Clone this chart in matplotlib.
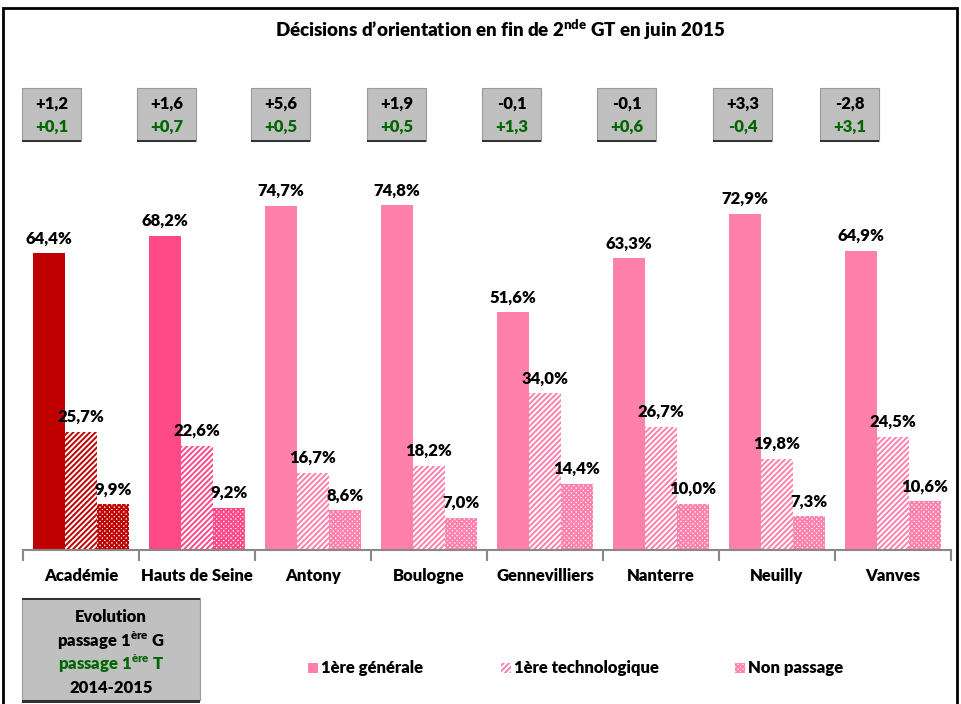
import matplotlib
matplotlib.use("Agg")
import matplotlib.pyplot as plt
from matplotlib.patches import Rectangle
import numpy as np

FONT = 'Lato'
WT = 'heavy'
plt.rcParams['font.family'] = [FONT, 'DejaVu Sans']
plt.rcParams['font.weight'] = WT
plt.rcParams['mathtext.fontset'] = 'custom'
plt.rcParams['mathtext.rm'] = FONT + ':' + WT
plt.rcParams['mathtext.bf'] = FONT + ':' + WT
plt.rcParams['hatch.linewidth'] = 1.4

categories = ["Académie", "Hauts de Seine", "Antony", "Boulogne", "Gennevilliers",
              "Nanterre", "Neuilly", "Vanves"]
premiere_generale = [64.4, 68.2, 74.7, 74.8, 51.6, 63.3, 72.9, 64.9]
premiere_techno = [25.7, 22.6, 16.7, 18.2, 34.0, 26.7, 19.8, 24.5]
non_passage = [9.9, 9.2, 8.6, 7.0, 14.4, 10.0, 7.3, 10.6]
evol_g = ["+1,2", "+1,6", "+5,6", "+1,9", "-0,1", "-0,1", "+3,3", "-2,8"]
evol_t = ["+0,1", "+0,7", "+0,5", "+0,5", "+1,3", "+0,6", "-0,4", "+3,1"]
series_names = ["1ère générale", "1ère technologique", "Non passage"]

colors = ["#C00000", "#FF4A87"] + ["#FF80AA"] * 6
green = "#006600"
FS = 12

W, H = 962, 704
fig = plt.figure(figsize=(W / 100, H / 100), dpi=100)

def fx(px):
    return px / W

def fy(py):
    return 1 - py / H

ax = fig.add_axes([fx(23), fy(550), fx(951) - fx(23), (550 - 150) / H])
n = len(categories)
x = np.arange(n)
bw = 0.276

def fmt(v):
    return f"{v:.1f}".replace(".", ",") + "%"

for i in range(n):
    c = colors[i]
    b1 = ax.bar(x[i] - bw, premiere_generale[i], bw, color=c, linewidth=0)
    b2 = ax.bar(x[i], premiere_techno[i], bw, facecolor="white", edgecolor=c,
                hatch="//////", linewidth=0)
    b3 = ax.bar(x[i] + bw, non_passage[i], bw, facecolor="white", edgecolor=c,
                hatch="xxxxxxx", linewidth=0)
    for bars, vals in ((b1, premiere_generale), (b2, premiere_techno), (b3, non_passage)):
        r = bars[0]
        ax.annotate(fmt(vals[i]), (r.get_x() + r.get_width() / 2, r.get_height()),
                    xytext=(0, 5), textcoords="offset points", ha="center", va="bottom",
                    fontsize=FS, fontweight=WT, color="black")

ax.set_xlim(-0.5, n - 0.5)
ax.set_ylim(0, 86.8)
ax.set_yticks([])
for s in ("left", "right", "top"):
    ax.spines[s].set_visible(False)
ax.spines["bottom"].set_color("#888888")
ax.spines["bottom"].set_linewidth(1.5)
ax.set_xticks(np.arange(n + 1) - 0.5, minor=False)
ax.set_xticklabels([""] * (n + 1))
ax.tick_params(axis="x", direction="out", length=8, width=1.5, color="#888888")
for i, cat in enumerate(categories):
    ax.text(x[i], -5.6, cat, ha="center", va="center", fontsize=FS, fontweight=WT)

# title
fig.text(fx(500), fy(30), r"Décisions d’orientation en fin de 2$^{\mathbf{nde}}$ GT en juin 2015",
         ha="center", va="center", fontsize=13.5, fontweight=WT)

# evolution boxes
box_x = [22, 137, 251, 367, 482, 597, 713, 820]
for i in range(n):
    x0 = box_x[i]
    fig.patches.append(Rectangle((fx(x0), fy(141)), fx(59), (141 - 88) / H,
                                 transform=fig.transFigure, facecolor="#C0C0C0",
                                 edgecolor="#9a9a9a", linewidth=0.8))
    fig.patches.append(Rectangle((fx(x0), fy(142)), fx(59), 2.5 / H,
                                 transform=fig.transFigure, facecolor="#333333",
                                 edgecolor="none"))
    fig.text(fx(x0 + 29.5), fy(104), evol_g[i], ha="center", va="center",
             fontsize=FS, fontweight=WT, color="black")
    fig.text(fx(x0 + 29.5), fy(127), evol_t[i], ha="center", va="center",
             fontsize=FS, fontweight=WT, color=green)

# bottom-left legend box
fig.patches.append(Rectangle((fx(22), fy(700)), fx(178), (700 - 598) / H,
                             transform=fig.transFigure, facecolor="#C0C0C0",
                             edgecolor="#9a9a9a", linewidth=0.8))
fig.patches.append(Rectangle((fx(22), fy(600)), fx(178), 2.5 / H,
                             transform=fig.transFigure, facecolor="#333333", edgecolor="none"))
fig.patches.append(Rectangle((fx(22), fy(703)), fx(178), 3 / H,
                             transform=fig.transFigure, facecolor="#333333", edgecolor="none"))
fig.text(fx(111), fy(617), "Evolution", ha="center", va="center", fontsize=FS, fontweight=WT)
fig.text(fx(111), fy(641), r"passage 1$^{\mathbf{ère}}$ G", ha="center", va="center",
         fontsize=FS, fontweight=WT)
fig.text(fx(111), fy(664), r"passage 1$^{\mathbf{ère}}$ T", ha="center", va="center",
         fontsize=FS, fontweight=WT, color=green)
fig.text(fx(111), fy(688), "2014-2015", ha="center", va="center", fontsize=FS, fontweight=WT)

# series legend
leg_c = "#FF80AA"
leg_x = [308, 501, 735]
styles = [dict(facecolor=leg_c, edgecolor=leg_c, hatch=None),
          dict(facecolor="white", edgecolor=leg_c, hatch="//////"),
          dict(facecolor="white", edgecolor=leg_c, hatch="xxxxxxx")]
for lx, name, st in zip(leg_x, series_names, styles):
    fig.patches.append(Rectangle((fx(lx), fy(673)), fx(10), 10 / H,
                                 transform=fig.transFigure, linewidth=0, **st))
    fig.text(fx(lx + 13), fy(668), name, ha="left", va="center", fontsize=FS, fontweight=WT)

# outer frame
fig.patches.append(Rectangle((fx(3), fy(720)), fx(957 - 3), (720 - 8) / H,
                             transform=fig.transFigure, facecolor="none",
                             edgecolor="black", linewidth=2))

fig.savefig("out.png", dpi=100, facecolor="white")
